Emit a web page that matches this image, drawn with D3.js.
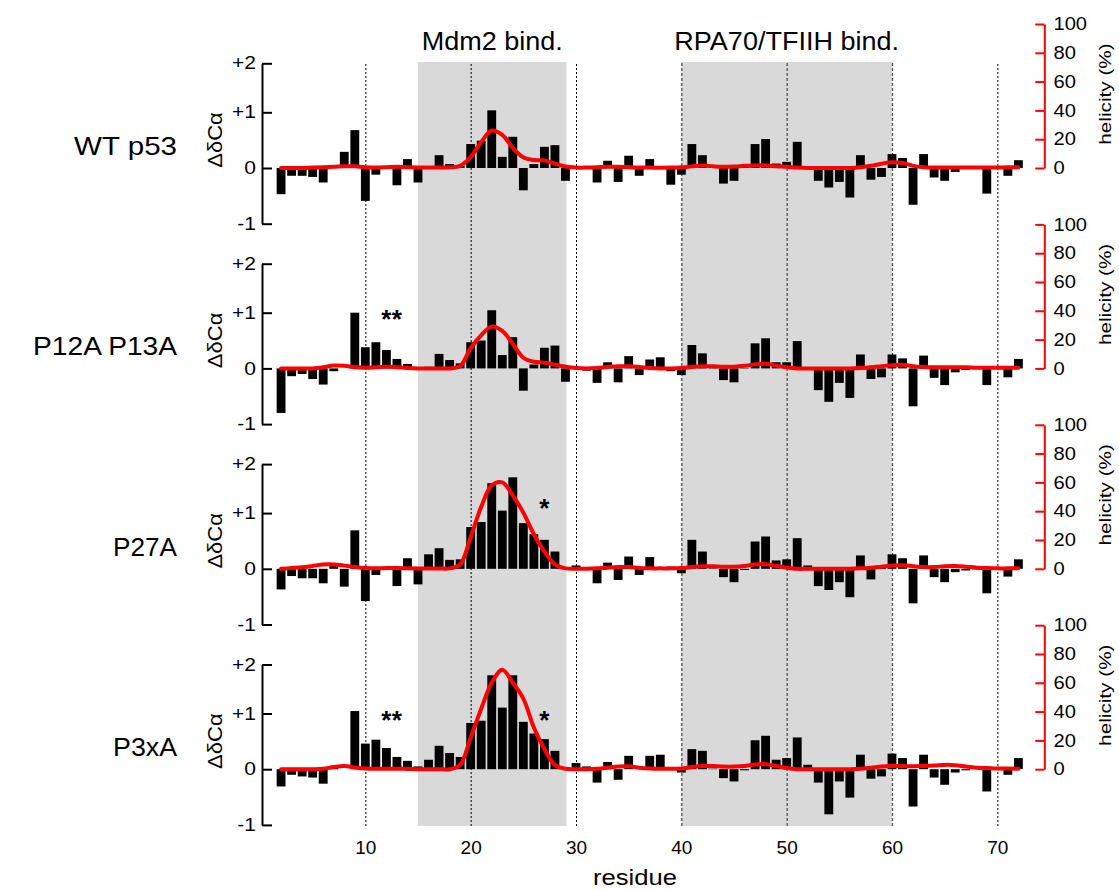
<!DOCTYPE html>
<meta charset="utf-8">
<style>

body {
  margin: 0;
  background: #fff;
}

text {
  font-family: "Liberation Sans", Arial, sans-serif;
  fill: #000;
}

.bar {
  fill: #000;
}

.helix {
  fill: none;
  stroke: #ff0000;
  stroke-width: 4;
  stroke-linejoin: round;
  stroke-linecap: round;
}

.yaxis path, .yaxis line {
  stroke: #000;
  stroke-width: 2;
}

.haxis path, .haxis line {
  stroke: #ff0000;
  stroke-width: 2;
}

.grid path {
  display: none;
}

.star {
  font-weight: bold;
}

</style>
<body>
<script src="https://cdn.jsdelivr.net/npm/d3@7"></script>
<script>

var width = 1119,
    height = 890;

// residues 2..72
var residues = d3.range(2, 73);

var panelNames = ["WT p53", "P12A P13A", "P27A", "P3xA"];

// secondary chemical shift differences (ΔδCα, ppm)
var shiftWT = [
  -0.47, -0.14, -0.14, -0.16, -0.26, 0.05, 0.29, 0.68, -0.59, -0.12,
  0.0, -0.31, 0.16, -0.26, 0.0, 0.23, 0.07, 0.05, 0.43, 0.49,
  1.04, 0.2, 0.56, -0.4, 0.07, 0.38, 0.41, -0.23, 0.0, 0.0,
  -0.26, 0.13, -0.25, 0.22, -0.14, 0.16, 0.0, -0.3, -0.12, 0.43,
  0.23, 0.05, -0.28, -0.23, 0.03, 0.43, 0.52, 0.08, 0.11, 0.47,
  0.02, -0.23, -0.35, -0.25, -0.53, 0.23, -0.21, -0.16, 0.25, 0.18,
  -0.66, 0.25, -0.17, -0.23, -0.07, -0.01, 0.0, -0.46, 0.01, -0.14, 0.14];

var shiftP12 = [
  -0.80, -0.14, -0.10, -0.19, -0.29, -0.05, 0.0, 1.0, 0.38, 0.47,
  0.33, 0.17, 0.08, 0.0, 0.03, 0.26, 0.15, 0.09, 0.47, 0.5,
  1.05, 0.24, 0.56, -0.4, 0.07, 0.37, 0.41, -0.24, 0.0, -0.04,
  -0.26, 0.11, -0.25, 0.22, -0.12, 0.16, 0.2, -0.05, -0.12, 0.42,
  0.27, 0.02, -0.21, -0.25, 0.01, 0.45, 0.54, 0.11, 0.11, 0.49,
  0.0, -0.39, -0.6, -0.26, -0.53, 0.25, -0.19, -0.16, 0.25, 0.18,
  -0.68, 0.23, -0.17, -0.3, -0.07, -0.03, -0.01, -0.3, 0.0, -0.16, 0.17];

var shiftP27 = [
  -0.37, -0.13, -0.17, -0.17, -0.26, 0.05, -0.32, 0.69, -0.58, -0.11,
  0.0, -0.31, 0.19, -0.28, 0.26, 0.37, 0.16, 0.17, 0.75, 0.84,
  1.61, 1.05, 1.73, 0.82, 0.62, 0.52, 0.31, 0.0, 0.06, -0.01,
  -0.26, 0.11, -0.2, 0.22, -0.11, 0.21, 0.0, 0.04, -0.08, 0.52,
  0.31, 0.01, -0.15, -0.24, -0.02, 0.49, 0.58, 0.15, 0.17, 0.55,
  0.06, -0.31, -0.38, -0.24, -0.51, 0.24, -0.19, 0.02, 0.26, 0.19,
  -0.62, 0.24, -0.15, -0.24, -0.06, -0.03, -0.01, -0.44, 0.0, -0.14, 0.17];

var shiftP3x = [
  -0.31, -0.1, -0.13, -0.15, -0.26, 0.04, 0.0, 1.05, 0.46, 0.53,
  0.38, 0.22, 0.15, 0.05, 0.17, 0.42, 0.29, 0.22, 0.83, 0.87,
  1.78, 1.12, 1.78, 0.85, 0.64, 0.54, 0.33, 0.02, 0.11, 0.05,
  -0.24, 0.13, -0.19, 0.24, 0.0, 0.24, 0.26, 0.04, -0.06, 0.36,
  0.33, 0.01, -0.16, -0.22, -0.02, 0.52, 0.6, 0.17, 0.2, 0.57,
  0.08, -0.24, -0.81, -0.22, -0.51, 0.26, -0.17, -0.13, 0.28, 0.2,
  -0.67, 0.26, -0.15, -0.28, -0.06, -0.02, 0.0, -0.4, 0.0, -0.1, 0.2];

// helicity (%)
var helixWT = [
  0, 0, 0, 0.3, 0.5, 0.8, 1.2, 1.2, 0.5, 0.3,
  0.5, 0.8, 0.6, 0.4, 0.3, 0.3, 0.5, 1.5, 7.5, 18,
  26, 23, 14, 7.4, 5.5, 5.3, 3, 1, 0.3, 0.3,
  0.5, 0.8, 0.8, 0.5, 0.3, 0.3, 0.2, 0.3, 0.5, 1.2,
  1.8, 1.2, 0.8, 1, 1.5, 1.8, 1.8, 1.2, 0.8, 0.3,
  0, 0, 0, 0, 0, 0.5, 1.5, 3, 4, 3.5,
  1.5, 0.5, 0.3, 0.3, 0.3, 0.3, 0.3, 0.3, 0.3, 0.5, 0.5];

var helixP12 = [
  0, 0, 0, 0, 0.8, 2, 1.8, 0.8, 0.5, 0.8,
  1.2, 0.8, 0.3, 0, 0, 0, 0, 1.5, 14, 23,
  29, 26, 17, 7.4, 4.6, 4, 2.5, 1.2, 0.3, 0,
  0.3, 1, 1.5, 1.5, 1, 0.3, 0, 0, 0.3, 1,
  1.5, 1.5, 1.2, 1.2, 1.8, 2.8, 3.2, 2, 0.8, 0,
  0, 0, 0, 0, 0, 0.3, 0.8, 1.5, 2.2, 2.5,
  1.5, 1, 0.8, 0.8, 0.8, 0.8, 0.5, 0.5, 0.5, 0.5, 0.5];

var helixP27 = [
  0, 0.5, 1, 2, 3, 3, 2.2, 1.2, 0.5, 0.3,
  0.5, 0.5, 0.3, 0.2, 0.2, 0.2, 0.3, 3, 22, 43,
  58, 60, 51, 39, 24, 12, 3, 0.3, 0, 0,
  0.3, 0.8, 1.2, 1.2, 0.5, 0.3, 0.3, 0.3, 0.5, 1.2,
  1.8, 1.8, 1.5, 1.5, 2, 3, 3.2, 2, 0.8, 0,
  0, 0, 0, 0, 0, 0.3, 0.8, 1.5, 2.2, 2.5,
  1.8, 1.2, 1.2, 1.8, 2, 1.5, 0.8, 0.5, 0.3, 0.3, 0.3];

var helixP3x = [
  0, 0, 0, 0, 0.3, 1.5, 2.2, 1.2, 0.5, 0.3,
  0.3, 0.3, 0.2, 0, 0, 0, 0, 3, 22, 42,
  60, 69, 60, 49, 29, 14, 3, 0.3, 0, 0,
  0.3, 1, 1.8, 2, 1, 0.5, 0.3, 0.3, 0.5, 1.5,
  2.2, 2.2, 1.8, 1.8, 2.2, 3.2, 3.5, 2.2, 0.8, 0,
  0, 0, 0, 0, 0, 0.3, 1, 1.8, 2.2, 2.2,
  2, 2.2, 2.5, 3, 2.8, 1.8, 1, 0.8, 0.5, 0.5, 0.3];

var shifts = [shiftWT, shiftP12, shiftP27, shiftP3x];
var helices = [helixWT, helixP12, helixP27, helixP3x];

// mutated residues marked with a star, and the ΔδCα level of the star
var stars = [
  [],
  [[12, 1.0], [13, 1.0]],
  [[27, 1.23]],
  [[12, 1.0], [13, 1.0], [27, 1.0]]
];

var regions = [
  {name: "Mdm2 bind.", from: 15, to: 29.1},
  {name: "RPA70/TFIIH bind.", from: 40, to: 60}
];

var xTicks = [10, 20, 30, 40, 50, 60, 70];
var shiftTicks = [-1, 0, 1, 2];
var helixTicks = [0, 20, 40, 60, 80, 100];

var svg = d3.select("body").append("svg")
    .attr("width", width)
    .attr("height", height);

var x = d3.scaleLinear().domain([0, 75]).range([260, 1050]);
var bw = (x(1) - x(0)) * 0.84;

var plotTop = 63,
    plotBottom = 826,
    panelStep = 200.4,
    firstZero = 168;

// panel names are stretched to the width of the original lettering
var nameWidths = [103, 144, 64, 64];

// text with a slight horizontal stretch, like the original lettering
function label(g, px, py, s, size, anchor, sx, rot) {
  return g.append("text")
    .attr("transform", "translate(" + px + "," + py + ") rotate(" + (rot || 0) + ") scale(" + sx + ",1)")
    .attr("text-anchor", anchor)
    .style("font-size", size + "px")
    .text(s);
}

// shaded binding regions
svg.selectAll("rect.region")
    .data(regions)
  .enter().append("rect")
    .attr("class", "region")
    .attr("x", function(d) { return x(d.from); })
    .attr("width", function(d) { return x(d.to) - x(d.from); })
    .attr("y", plotTop - 1)
    .attr("height", plotBottom - plotTop + 1)
    .style("fill", "#d9d9d9");

regions.forEach(function(d) {
  label(svg, (x(d.from) + x(d.to)) / 2, 50, d.name, 25.5, "middle", 1.06);
});

// dotted residue grid + labels
var xAxis = d3.axisBottom(x)
    .tickValues(xTicks)
    .tickSize(-(plotBottom - plotTop + 1))
    .tickPadding(14.5)
    .tickFormat(d3.format("d"));

var grid = svg.append("g")
    .attr("class", "grid")
    .attr("transform", "translate(0," + plotBottom + ")")
    .call(xAxis);

grid.selectAll("line")
    .attr("stroke", function(d) { return (d >= 40 && d <= 60) ? "#555" : "#000"; })
    .attr("stroke-width", function(d) { return (d >= 40 && d <= 60) ? 1.3 : 1; })
    .attr("stroke-dasharray", function(d) { return (d >= 40 && d <= 60) ? "3,2" : "2,2"; });

grid.selectAll("text")
    .style("font-size", "19px")
    .style("font-family", "'Liberation Sans', Arial, sans-serif");

label(svg, 635, 885, "residue", 21.5, "middle", 1.19);

var fmtShift = function(d) { return d > 0 ? "+" + d : String(d); };

var lineGen = d3.line()
    .curve(d3.curveCatmullRom.alpha(0.5));

panelNames.forEach(function(name, i) {

  var y0 = firstZero + i * panelStep;

  var y = d3.scaleLinear()
      .domain([-1, 0, 1, 2])
      .range([y0 + 55.7, y0, y0 - 55.7, y0 - 104.7]);

  var h = d3.scaleLinear()
      .domain([0, 100])
      .range([y0, y0 - 144]);

  var g = svg.append("g").attr("class", "panel");

  var rows = residues.map(function(r, j) {
    return {res: r, shift: shifts[i][j], helix: helices[i][j]};
  });

  g.selectAll("rect.bar")
      .data(rows)
    .enter().append("rect")
      .attr("class", "bar")
      .attr("x", function(d) { return x(d.res) - bw / 2; })
      .attr("width", bw)
      .attr("y", function(d) { return Math.min(y(d.shift), y(0)); })
      .attr("height", function(d) { return Math.abs(y(d.shift) - y(0)); });

  lineGen.x(function(d) { return x(d.res); })
      .y(function(d) { return h(d.helix); });

  g.append("path")
      .datum(rows)
      .attr("class", "helix")
      .attr("d", lineGen);

  g.selectAll("text.star")
      .data(stars[i])
    .enter().append("text")
      .attr("class", "star")
      .attr("x", function(d) { return x(d[0]); })
      .attr("y", function(d) { return y(d[1]) + 15; })
      .attr("text-anchor", "middle")
      .style("font-size", "26px")
      .text("*");

  // left ΔδCα axis
  var yAxis = d3.axisLeft(y)
      .tickValues(shiftTicks)
      .tickSizeInner(-10)
      .tickSizeOuter(0)
      .tickPadding(5)
      .tickFormat(fmtShift);

  var ya = g.append("g")
      .attr("class", "yaxis")
      .attr("transform", "translate(262,0)")
      .call(yAxis);

  ya.selectAll("text")
      .attr("transform", "scale(1.2,1)")
      .style("font-size", "17.5px")
      .style("font-family", "'Liberation Sans', Arial, sans-serif");

  // right helicity axis
  var hAxis = d3.axisRight(h)
      .tickValues(helixTicks)
      .tickSizeInner(-9)
      .tickSizeOuter(0)
      .tickPadding(8);

  var ha = g.append("g")
      .attr("class", "haxis")
      .attr("transform", "translate(1044.3,0)")
      .call(hAxis);

  ha.selectAll("text")
      .attr("transform", "scale(1.15,1)")
      .style("font-size", "17.5px")
      .style("font-family", "'Liberation Sans', Arial, sans-serif");

  label(g, 222, y0 - 28, "ΔδCα", 21, "middle", 1.05, -90);
  label(g, 1111, y0 - 74, "helicity (%)", 17, "middle", 1.22, -90);

  var nm = label(g, 177, y0 - 13, name, 25.5, "end", 1);
  var sx = nameWidths[i] / nm.node().getComputedTextLength();
  nm.attr("transform", "translate(177," + (y0 - 13) + ") scale(" + sx + ",1)");

});

</script>
</body>
